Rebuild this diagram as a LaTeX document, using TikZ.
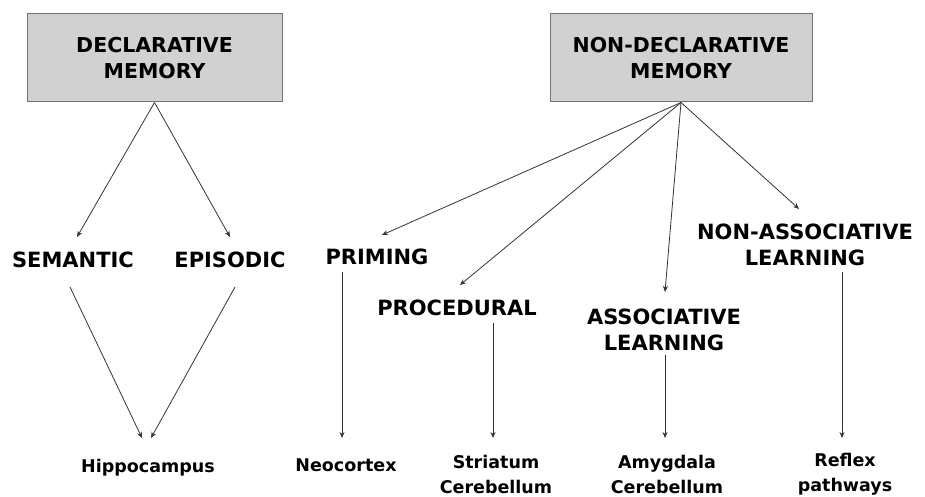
\documentclass[tikz,border=0pt]{standalone}
\usepackage{fontspec}
\setmainfont{DejaVu Sans}
\usetikzlibrary{arrows.meta}

\begin{document}
\begin{tikzpicture}[x=1pt,y=-1pt]
                        \tikzstyle{memory}=[draw=black!55,fill=black!18,line width=1pt,minimum height=88pt,align=center,font=\fontsize{20.5}{26}\selectfont\bfseries]
                        \tikzstyle{kind}=[align=center,inner sep=0pt,font=\fontsize{21}{26}\selectfont\bfseries]
                        \tikzstyle{region}=[align=center,inner sep=0pt,font=\fontsize{17.5}{25}\selectfont\bfseries]
                        \tikzstyle{link}=[draw=black!80,line width=0.8pt,-{Stealth[length=6pt,width=5pt]}]
                        \useasboundingbox (0,0) rectangle (925,497);
                        \node[memory,minimum width=255pt] (decl) at (154.5,58) {DECLARATIVE\\MEMORY};
                        \node[memory,minimum width=262pt] (ndecl) at (681,58) {NON-DECLARATIVE\\MEMORY};
                        \node[kind] (sem) at (73,260) {SEMANTIC};
                        \node[kind] (epi) at (230,260) {EPISODIC};
                        \node[kind] (prim) at (377,257) {PRIMING};
                        \node[kind] (proc) at (457,308) {PROCEDURAL};
                        \node[kind] (assoc) at (664,329.5) {ASSOCIATIVE\\LEARNING};
                        \node[kind] (nassoc) at (805,245) {NON-ASSOCIATIVE\\LEARNING};
                        \node[region] (hip) at (148,468) {Hippocampus};
                        \node[region] (neo) at (346,465) {Neocortex};
                        \node[region] (stri) at (496,474.5) {Striatum\\Cerebellum};
                        \node[region] (amyg) at (667,474.5) {Amygdala\\Cerebellum};
                        \node[region] (refl) at (845,474.5) {Reflex\\pathways};
                        \draw[link] (decl.south) -- ([xshift=4pt,yshift=23pt]sem.center);
                        \draw[link] (decl.south) -- ([yshift=23pt]epi.center);
                        \draw[link] ([xshift=-3pt,yshift=-27pt]sem.center) -- ([xshift=-6pt,yshift=30pt]hip.center);
                        \draw[link] ([xshift=5pt,yshift=-27pt]epi.center) -- ([xshift=3pt,yshift=30pt]hip.center);
                        \draw[link] (ndecl.south) -- ([xshift=5pt,yshift=22pt]prim.center);
                        \draw[link] (ndecl.south) -- ([xshift=3pt,yshift=23pt]proc.center);
                        \draw[link] (ndecl.south) -- ([xshift=1pt,yshift=37.5pt]assoc.center);
                        \draw[link] (ndecl.south) -- ([xshift=-6pt,yshift=36pt]nassoc.center);
                        \draw[link] ([xshift=-35pt,yshift=-15pt]prim.center) -- ([xshift=-4pt,yshift=27pt]neo.center);
                        \draw[link] ([xshift=36pt,yshift=-15pt]proc.center) -- ([xshift=-3pt,yshift=36.5pt]stri.center);
                        \draw[link] ([xshift=1pt,yshift=-25.5pt]assoc.center) -- ([xshift=-2pt,yshift=36.5pt]amyg.center);
                        \draw[link] ([xshift=37pt,yshift=-27pt]nassoc.center) -- ([xshift=-3pt,yshift=36.5pt]refl.center);
                    \end{tikzpicture}
\end{document}
